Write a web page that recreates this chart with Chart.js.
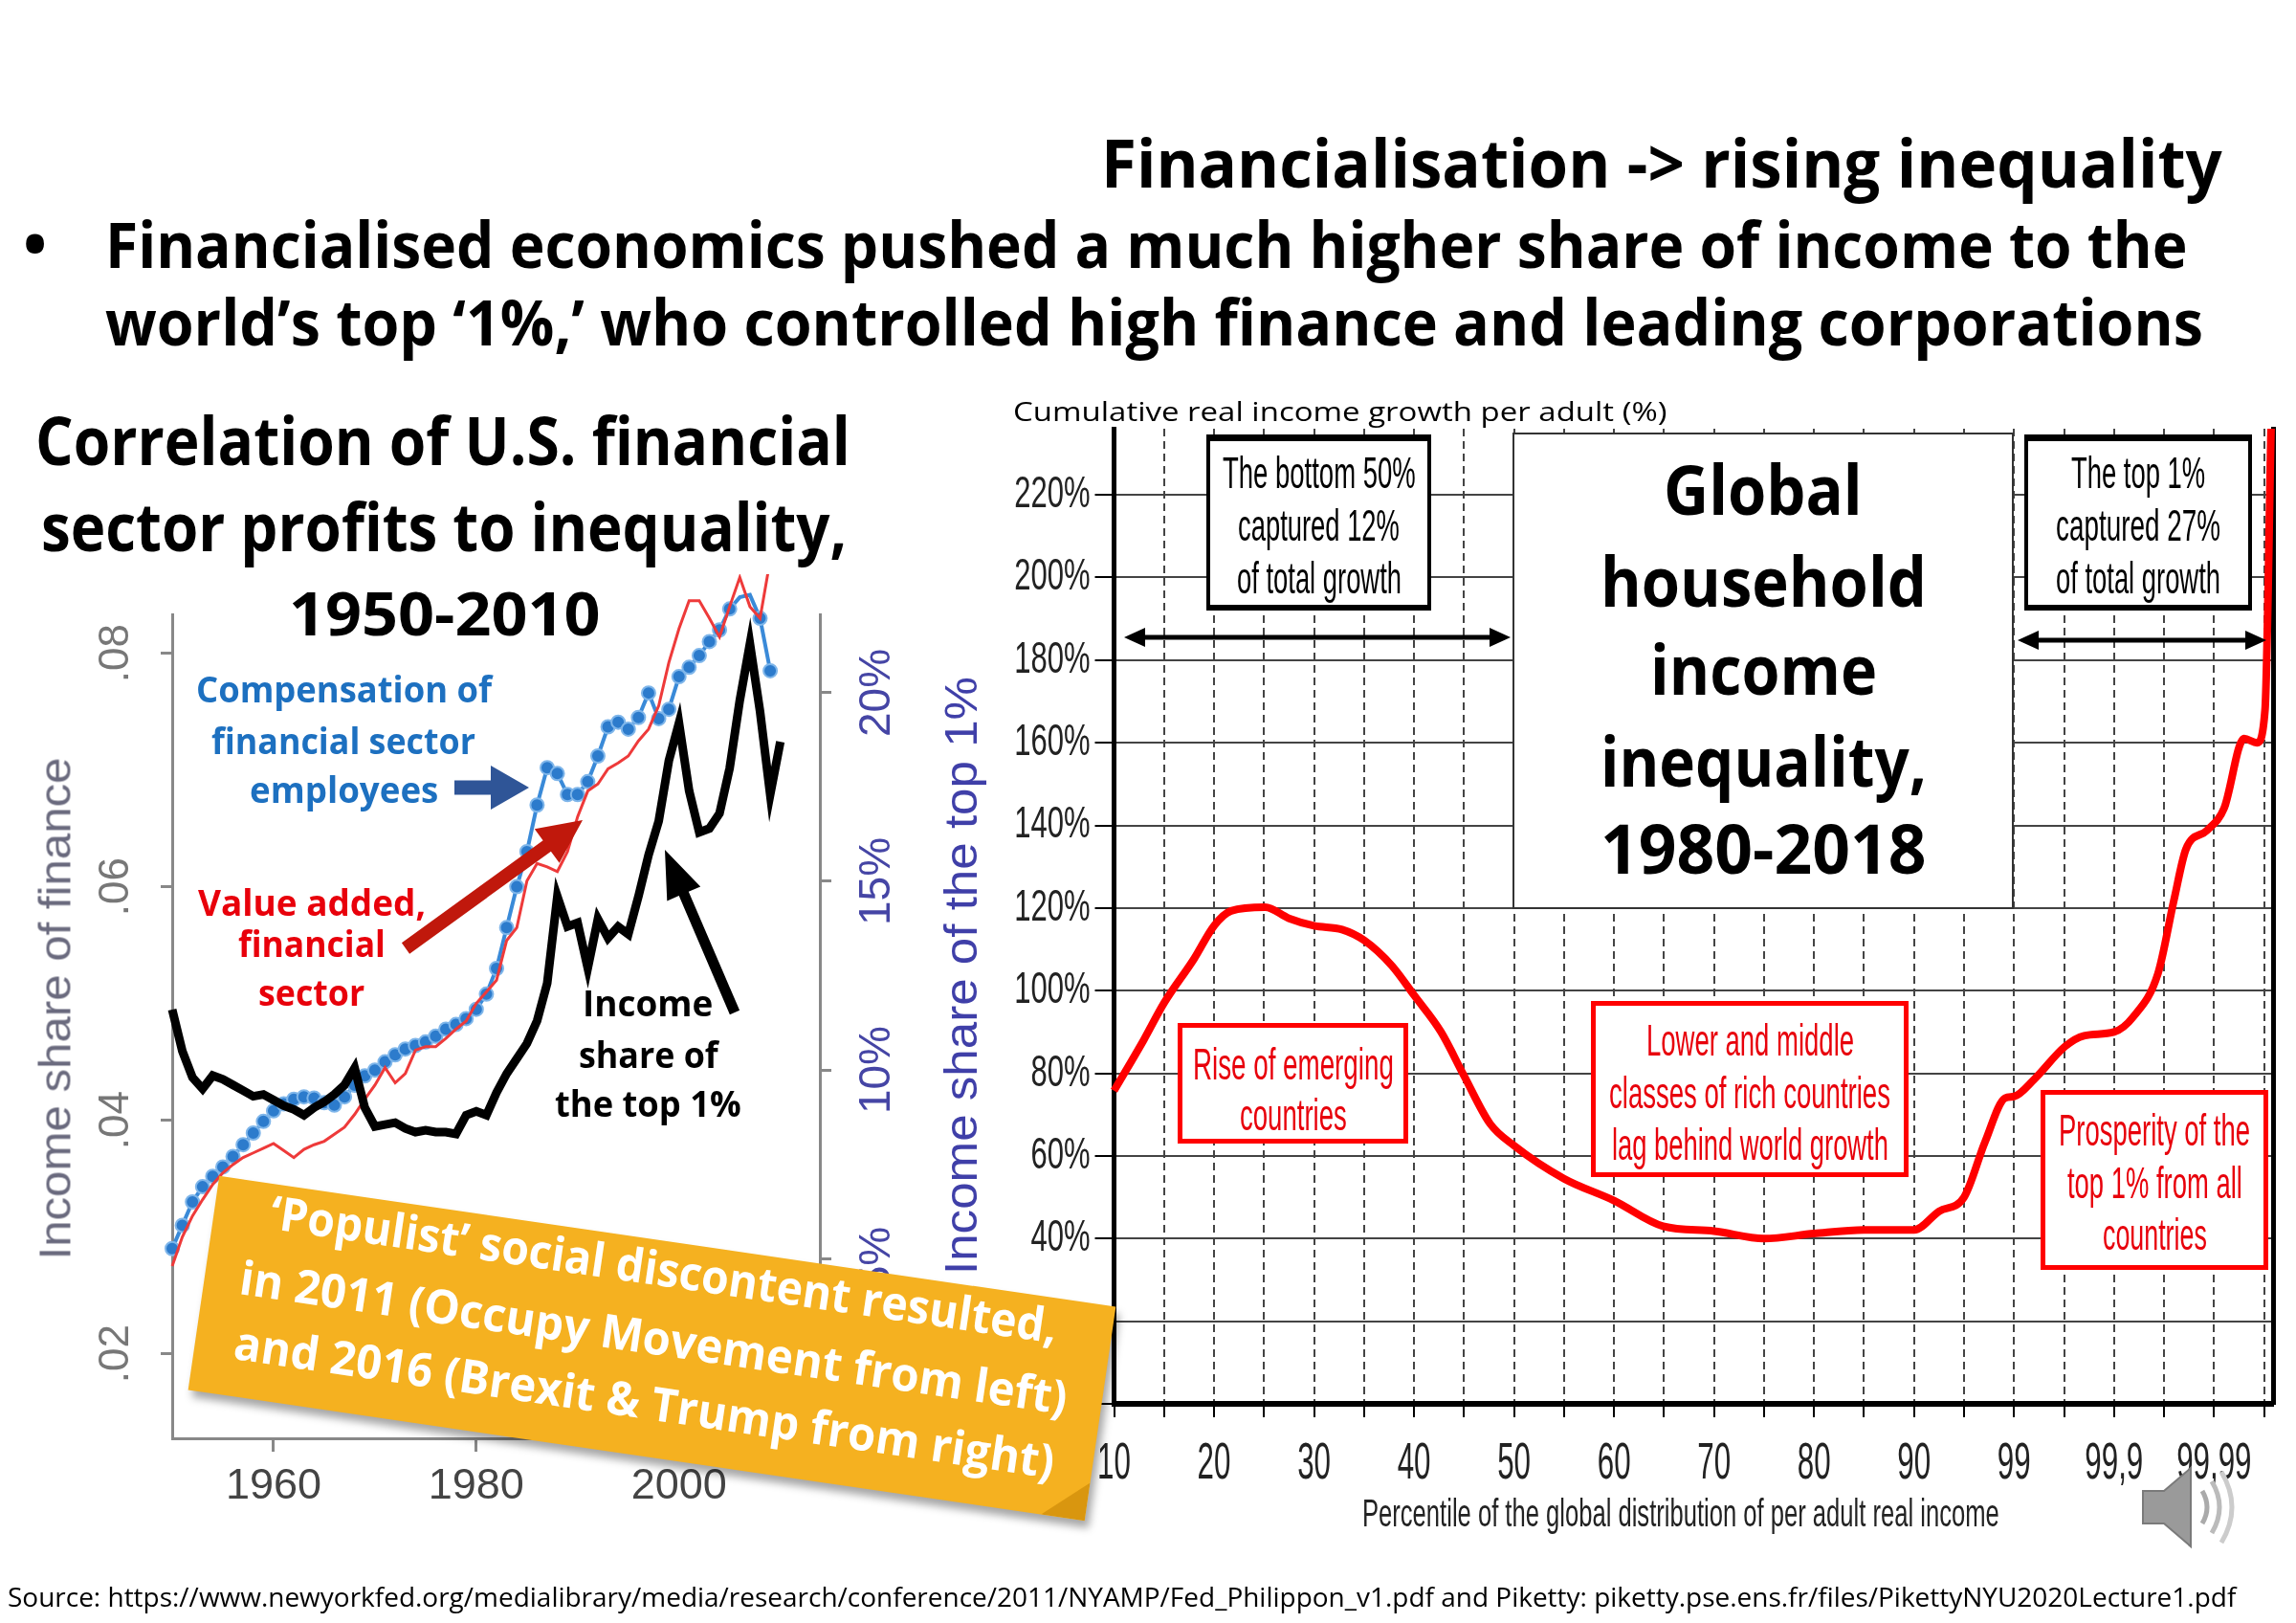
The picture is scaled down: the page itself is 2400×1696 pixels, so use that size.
<!DOCTYPE html>
<html>
<head>
<meta charset="utf-8">
<script src="https://cdn.jsdelivr.net/npm/chart.js@4.4.1/dist/chart.umd.min.js"></script>
<style>
  html, body { margin: 0; padding: 0; background: #fff; }
  body { width: 2400px; height: 1696px; position: relative; overflow: hidden; }
  .t { position: absolute; white-space: nowrap; line-height: 1; transform-origin: 0 0; }
  canvas { position: absolute; }
  #leftChart { left: 0; top: 600px; z-index: 1; }
  #rightChart { left: 1030px; top: 430px; z-index: 1; }
  .box { position: absolute; background: #fff; box-sizing: border-box; z-index: 3; }
  .blk { border: 4px solid #000; border-top-width: 7px; border-bottom-width: 6px; }
  .glob { border: 2px solid #333; }
  .red { border: 5px solid #f00; }
  #note { position: absolute; left: 208px; top: 1296px; width: 947px; height: 226px;
          background: #f5b120; transform: rotate(8.3deg); z-index: 6;
          box-shadow: 5px 7px 9px rgba(0,0,0,0.35); }
  #fold { position: absolute; right: 0; bottom: 0; width: 46px; height: 40px;
          background: #d9960f; clip-path: polygon(100% 0, 0 100%, 100% 100%); }
  #marks { position: absolute; left: 0; top: 0; z-index: 4; }
  #speaker { position: absolute; left: 2232px; top: 1528px; z-index: 4; }
</style>
</head>
<body>
<canvas id="leftChart" width="1040" height="1000"></canvas>
<canvas id="rightChart" width="1370" height="1190"></canvas>

<div class="box blk" style="left:1261px;top:454px;width:235px;height:184px"></div>
<div class="box glob" style="left:1581px;top:452px;width:524px;height:498px"></div>
<div class="box blk" style="left:2116px;top:454px;width:238px;height:184px"></div>
<div class="box red" style="left:1231px;top:1069px;width:241px;height:126px"></div>
<div class="box red" style="left:1663px;top:1046px;width:332px;height:184px"></div>
<div class="box red" style="left:2133px;top:1139px;width:238px;height:188px"></div>

<div id="note"><div id="fold"></div></div>

<svg id="marks" width="2400" height="1696"></svg>

<svg id="speaker" width="115" height="95" viewBox="0 0 115 95">
  <polygon points="8,30 30,30 58,6 58,88 30,64 8,64" fill="#9a9a9a" stroke="#7a7a7a" stroke-width="2"/>
  <path d="M70,30 Q80,47 70,64" stroke="#aaa" stroke-width="5" fill="none"/>
  <path d="M80,20 Q96,47 80,74" stroke="#bbb" stroke-width="5" fill="none"/>
  <path d="M90,10 Q112,47 90,84" stroke="#ccc" stroke-width="5" fill="none"/>
</svg>

<script>
// ---- left chart: US finance 1950-2010 ----
const years = Array.from({ length: 61 }, (_, i) => 1950 + i);

// compensation of financial sector employees (left axis)
const compensation = [
  0.0290, 0.0310, 0.0330, 0.0343, 0.0352, 0.0360, 0.0369, 0.0379, 0.0389, 0.0399,
  0.0408, 0.0414, 0.0418, 0.0420, 0.0419, 0.0415, 0.0413, 0.0420, 0.0430, 0.0438,
  0.0443, 0.0450, 0.0456, 0.0461, 0.0464, 0.0467, 0.0472, 0.0478, 0.0482, 0.0487,
  0.0495, 0.0508, 0.0530, 0.0565, 0.0600, 0.0630, 0.0670, 0.0702, 0.0697, 0.0679,
  0.0679, 0.0690, 0.0712, 0.0737, 0.0741, 0.0735, 0.0745, 0.0766, 0.0744, 0.0752,
  0.0780, 0.0788, 0.0798, 0.0810, 0.0820, 0.0838, 0.0848, 0.0850, 0.0830, 0.0785, null
];

// value added, financial sector (left axis)
const valueAdded = [
  0.0275, 0.0300, 0.0318, 0.0332, 0.0345, 0.0355, 0.0362, 0.0368, 0.0372, 0.0376,
  0.0380, 0.0374, 0.0368, 0.0375, 0.0379, 0.0382, 0.0388, 0.0394, 0.0405, 0.0418,
  0.0430, 0.0445, 0.0432, 0.0440, 0.0460, 0.0463, 0.0463, 0.0470, 0.0478, 0.0485,
  0.0500, 0.0510, 0.0520, 0.0554, 0.0565, 0.0605, 0.0620, 0.0617, 0.0613, 0.0630,
  0.0660, 0.0682, 0.0688, 0.0701, 0.0706, 0.0712, 0.0725, 0.0735, 0.0755, 0.0792,
  0.0821, 0.0845, 0.0845, 0.0830, 0.0814, 0.0840, 0.0865, 0.0840, 0.0830, 0.0880, null
];

// income share of the top 1% (right axis, %)
const top1Share = [
  11.6, 10.5, 9.8, 9.5, 9.85, 9.75, 9.6, 9.45, 9.3, 9.35,
  9.2, 9.05, 8.95, 8.8, 9.0, 9.15, 9.35, 9.6, 10.05, 9.0,
  8.5, 8.55, 8.6, 8.45, 8.35, 8.4, 8.35, 8.35, 8.3, 8.8,
  8.9, 8.8, 9.4, 9.9, 10.3, 10.7, 11.3, 12.3, 14.6, 13.8,
  13.9, 12.7, 14.0, 13.5, 13.8, 13.6, 14.6, 15.7, 16.6, 18.2,
  19.2, 17.4, 16.3, 16.4, 16.8, 18.0, 19.8, 21.3, 19.5, 17.3, 18.7
];

// ---- right chart: global growth by percentile ----
const pctLabels = ['10', '20', '30', '40', '50', '60', '70', '80', '90', '99', '99,9', '99,99'];
// position along the percentile axis (1 unit = one labelled tick)
const growthPos = [
  0.00, 0.30, 0.50, 0.80, 1.00, 1.17, 1.51, 1.75, 2.00, 2.28,
  2.50, 2.78, 3.00, 3.27, 3.50, 3.76, 4.00, 4.50, 5.00, 5.49,
  6.00, 6.50, 7.00, 7.50, 8.00, 8.25, 8.50, 8.71, 8.91, 9.00,
  9.20, 9.51, 9.70, 10.00, 10.19, 10.44, 10.60, 10.72, 10.93, 11.10,
  11.30, 11.43, 11.51, 11.57
];
const growthPct = [
  75.8, 88.2, 97.0, 107.7, 115.7, 119.3, 120.2, 117.5, 115.7, 114.8,
  112.2, 106.0, 98.9, 90.0, 79.4, 67.8, 62.5, 54.5, 49.2, 43.0,
  41.8, 40.0, 41.2, 42.1, 42.1, 46.6, 50.0, 63.4, 74.0, 74.4,
  78.5, 86.5, 89.1, 90.0, 93.6, 104.2, 122.0, 134.3, 138.8, 144.1,
  161.0, 160.0, 168.0, 236.0
];

// the source figure uses a condensed face; squeeze the tick labels horizontally
const narrowTicks = {
  id: 'narrowTicks',
  afterDraw(chart) {
    const ctx = chart.ctx;
    const xs = chart.scales.x, ys = chart.scales.y;
    ctx.save();
    ctx.fillStyle = '#222';
    ctx.font = '54px "Liberation Sans", Arial, sans-serif';
    ctx.textAlign = 'center';
    ctx.textBaseline = 'middle';
    xs.ticks.forEach((t, i) => {
      if (!t.label) return;
      ctx.save();
      ctx.translate(xs.getPixelForTick(i), xs.top + 63);
      ctx.scale(0.58, 1);
      ctx.fillText(t.label, 0, 0);
      ctx.restore();
    });
    ctx.font = '47px "Liberation Sans", Arial, sans-serif';
    ctx.textAlign = 'right';
    ys.ticks.forEach((t, i) => {
      if (!t.label) return;
      ctx.save();
      ctx.translate(ys.right - 25, ys.getPixelForTick(i));
      ctx.scale(0.66, 1);
      ctx.fillText(t.label, 0, 0);
      ctx.restore();
    });
    ctx.restore();
  }
};

new Chart(document.getElementById('leftChart'), {
  type: 'line',
  data: {
    datasets: [
      {
        label: 'Income share of the top 1%',
        data: years.map((y, i) => ({ x: y, y: top1Share[i] })),
        yAxisID: 'y2',
        borderColor: '#000',
        borderWidth: 9,
        pointRadius: 0,
        clip: false,
        order: 0
      },
      {
        label: 'Value added, financial sector',
        data: years.map((y, i) => ({ x: y, y: valueAdded[i] })),
        yAxisID: 'y',
        borderColor: '#ee3a3a',
        borderWidth: 3,
        pointRadius: 0,
        clip: false,
        order: 1
      },
      {
        label: 'Compensation of financial sector employees',
        data: years.map((y, i) => ({ x: y, y: compensation[i] })),
        yAxisID: 'y',
        borderColor: '#3a8ad8',
        borderWidth: 4,
        pointRadius: 7,
        pointBackgroundColor: '#2c7bcc',
        pointBorderColor: '#7fb6ea',
        pointBorderWidth: 2,
        clip: false,
        order: 2
      }
    ]
  },
  options: {
    responsive: false,
    animation: false,
    devicePixelRatio: 1,
    layout: { padding: { top: 42, left: 0, right: 0, bottom: 0 } },
    plugins: { legend: { display: false }, tooltip: { enabled: false } },
    scales: {
      x: {
        type: 'linear',
        min: 1950,
        max: 2013.9,
        afterFit: s => { s.height = 97; },
        ticks: {
          stepSize: 20, includeBounds: false, maxRotation: 0, padding: 10,
          color: '#444', font: { family: 'Liberation Sans', size: 45 },
          callback: v => String(v)
        },
        grid: { drawOnChartArea: false, tickLength: 14, tickColor: '#888', tickWidth: 3 },
        border: { color: '#888', width: 3 }
      },
      y: {
        type: 'linear',
        position: 'left',
        min: 0.01275,
        max: 0.0833,
        afterFit: s => { s.width = 180; },
        ticks: {
          stepSize: 0.02, includeBounds: false, minRotation: 90, maxRotation: 90,
          crossAlign: 'center', padding: 16,
          color: '#777', font: { family: 'Liberation Sans', size: 44 },
          callback: v => v.toFixed(2).slice(1)
        },
        grid: { drawOnChartArea: false, tickLength: 12, tickColor: '#888', tickWidth: 3 },
        border: { color: '#888', width: 3 }
      },
      y2: {
        type: 'linear',
        position: 'right',
        min: 0.23,
        max: 22.07,
        afterFit: s => { s.width = 183; },
        ticks: {
          stepSize: 5, includeBounds: false, minRotation: 90, maxRotation: 90,
          crossAlign: 'center', padding: 2,
          color: '#4545a5', font: { family: 'Liberation Sans', size: 46 },
          callback: v => v + '%'
        },
        grid: { drawOnChartArea: false, tickLength: 12, tickColor: '#888', tickWidth: 3 },
        border: { color: '#888', width: 3 }
      }
    }
  }
});

new Chart(document.getElementById('rightChart'), {
  type: 'line',
  data: {
    datasets: [{
      label: 'Cumulative real income growth per adult (%)',
      data: growthPos.map((p, i) => ({ x: p, y: growthPct[i] })),
      borderColor: '#ff0000',
      borderWidth: 8,
      pointRadius: 0,
      cubicInterpolationMode: 'monotone',
      clip: false
    }]
  },
  options: {
    responsive: false,
    animation: false,
    devicePixelRatio: 1,
    layout: { padding: { top: 18, right: 24, left: 0, bottom: 0 } },
    plugins: { legend: { display: false }, tooltip: { enabled: false } },
    scales: {
      x: {
        type: 'linear',
        min: 0,
        max: 11.59,
        afterFit: s => { s.height = 153; },
        ticks: {
          display: false, stepSize: 0.5, includeBounds: false, autoSkip: false, maxRotation: 0,
          callback: v => Number.isInteger(v) ? pctLabels[v] : ''
        },
        grid: { color: '#444', lineWidth: 2, tickLength: 14, tickColor: '#000', tickWidth: 2 },
        border: { color: '#000', width: 6, dash: [8, 5] }
      },
      y: {
        type: 'linear',
        min: 0,
        max: 236,
        afterFit: s => { s.width = 134.5; },
        ticks: {
          display: false, stepSize: 20, includeBounds: false,
          callback: v => v >= 40 ? v + '%' : ''
        },
        grid: { color: '#444', lineWidth: 2, tickLength: 20, tickColor: '#000', tickWidth: 2 },
        border: { color: '#000', width: 5 }
      },
      yEdge: {
        type: 'linear',
        position: 'right',
        min: 0,
        max: 236,
        afterFit: s => { s.width = 0; },
        ticks: { display: false },
        grid: { display: false },
        border: { color: '#000', width: 5 }
      }
    }
  },
  plugins: [narrowTicks]
});

// ---- text placed on the slide ----
function addText(str, o) {
  const d = document.createElement('div');
  d.className = 't';
  d.style.font = (o.weight || 400) + ' ' + o.fs + 'px ' + (o.family || '"Open Sans", sans-serif');
  d.style.color = o.color || '#000';
  d.style.zIndex = o.z || 5;
  d.textContent = str;
  const m = document.createElement('span');
  m.style.cssText = 'display:inline-block;width:0;height:0;vertical-align:baseline';
  d.appendChild(m);
  (o.parent || document.body).appendChild(d);
  const natW = d.offsetWidth;
  const sx = o.w ? o.w / natW : 1;
  if (o.rot) {
    const h = d.offsetHeight;
    d.style.left = (o.cx - natW / 2) + 'px';
    d.style.top = (o.cy - h / 2) + 'px';
    d.style.transformOrigin = '50% 50%';
    d.style.transform = 'rotate(-90deg) scaleX(' + sx + ')';
    return d;
  }
  const left = o.cx !== undefined ? o.cx - natW * sx / 2 : o.x;
  d.style.left = left + 'px';
  d.style.top = (o.base - m.offsetTop) + 'px';
  d.style.transform = 'scaleX(' + sx + ')';
  return d;
}

function buildTexts() {
  const bold = { weight: 700 };
  addText('Financialisation -> rising inequality', { ...bold, x: 1151, w: 1172, base: 196, fs: 70 });
  addText('\u2022', { ...bold, x: 24, base: 279, fs: 67 });
  addText('Financialised economics pushed a much higher share of income to the', { ...bold, x: 110, w: 2177, base: 280, fs: 67 });
  addText('world\u2019s top \u20181%,\u2019 who controlled high finance and leading corporations', { ...bold, x: 110, w: 2193, base: 361, fs: 67 });

  addText('Correlation of U.S. financial', { ...bold, x: 37, w: 852, base: 486, fs: 70 });
  addText('sector profits to inequality,', { ...bold, x: 43, w: 842, base: 576, fs: 70 });
  addText('1950-2010', { ...bold, x: 302, w: 326, base: 664, fs: 62 });

  const blue = '#1d70c0', red = '#e8000b';
  addText('Compensation of', { ...bold, color: blue, x: 205, w: 309, base: 734, fs: 38 });
  addText('financial sector', { ...bold, color: blue, x: 221, w: 276, base: 788, fs: 38 });
  addText('employees', { ...bold, color: blue, x: 261, w: 197, base: 839, fs: 38 });
  addText('Value added,', { ...bold, color: red, x: 207, w: 238, base: 957, fs: 38 });
  addText('financial', { ...bold, color: red, x: 249, w: 154, base: 1000, fs: 38 });
  addText('sector', { ...bold, color: red, x: 270, w: 111, base: 1051, fs: 38 });
  addText('Income', { ...bold, x: 609, w: 136, base: 1062, fs: 38 });
  addText('share of', { ...bold, x: 605, w: 146, base: 1116, fs: 38 });
  addText('the top 1%', { ...bold, x: 580, w: 195, base: 1167, fs: 38 });

  addText('Income share of finance', { rot: true, cx: 57, cy: 1054, w: 525, fs: 46, family: 'Liberation Sans', color: '#6a6a7e', z: 2 });
  addText('Income share of the top 1%', { rot: true, cx: 1004, cy: 1019, w: 625, fs: 48, family: 'Liberation Sans', color: '#3f3fa8', z: 2 });

  addText('Cumulative real income growth per adult (%)', { x: 1059, w: 683, base: 440, fs: 27 });

  const ls = { family: 'Liberation Sans', fs: 46, z: 5 };
  addText('The bottom 50%', { ...ls, cx: 1378.5, w: 202, base: 510 });
  addText('captured 12%', { ...ls, cx: 1378.5, w: 169, base: 565 });
  addText('of total growth', { ...ls, cx: 1378.5, w: 172, base: 620 });
  addText('The top 1%', { ...ls, cx: 2235, w: 140, base: 510 });
  addText('captured 27%', { ...ls, cx: 2235, w: 172, base: 565 });
  addText('of total growth', { ...ls, cx: 2235, w: 172, base: 620 });

  const gb = { ...bold, fs: 72, cx: 1843 };
  addText('Global', { ...gb, w: 208, base: 538 });
  addText('household', { ...gb, w: 341, base: 634 });
  addText('income', { ...gb, w: 237, base: 726 });
  addText('inequality,', { ...gb, w: 341, base: 822 });
  addText('1980-2018', { ...gb, w: 341, base: 913 });

  const rs = { ...ls, color: '#e8000b' };
  addText('Rise of emerging', { ...rs, cx: 1351.5, w: 210, base: 1128 });
  addText('countries', { ...rs, cx: 1351.5, w: 112, base: 1181 });
  addText('Lower and middle', { ...rs, cx: 1829, w: 217, base: 1103 });
  addText('classes of rich countries', { ...rs, cx: 1829, w: 294, base: 1158 });
  addText('lag behind world growth', { ...rs, cx: 1829, w: 289, base: 1212 });
  addText('Prosperity of the', { ...rs, cx: 2252, w: 200, base: 1197 });
  addText('top 1% from all', { ...rs, cx: 2252, w: 183, base: 1252 });
  addText('countries', { ...rs, cx: 2252, w: 109, base: 1306 });

  addText('Percentile of the global distribution of per adult real income', { ...ls, fs: 40, color: '#222', x: 1424, w: 666, base: 1595 });

  const note = document.getElementById('note');
  const nt = { ...bold, fs: 49, color: '#fff', parent: note, cx: 473.5 };
  addText('\u2018Populist\u2019 social discontent resulted,', { ...nt, w: 830, base: 47 });
  addText('in 2011 (Occupy Movement from left)', { ...nt, w: 873, base: 119 });
  addText('and 2016 (Brexit & Trump from right)', { ...nt, w: 866, base: 187 });

  addText('Source: https://www.newyorkfed.org/medialibrary/media/research/conference/2011/NYAMP/Fed_Philippon_v1.pdf and Piketty: piketty.pse.ens.fr/files/PikettyNYU2020Lecture1.pdf',
    { x: 8, w: 2329, base: 1679, fs: 27 });
}

// ---- arrows ----
function arrowPoints(x1, y1, x2, y2, sw, hw, hl) {
  const L = Math.hypot(x2 - x1, y2 - y1);
  const ux = (x2 - x1) / L, uy = (y2 - y1) / L, nx = -uy, ny = ux;
  const bx = x2 - ux * hl, by = y2 - uy * hl;
  const p = [
    [x1 + nx * sw / 2, y1 + ny * sw / 2], [bx + nx * sw / 2, by + ny * sw / 2],
    [bx + nx * hw / 2, by + ny * hw / 2], [x2, y2],
    [bx - nx * hw / 2, by - ny * hw / 2], [bx - nx * sw / 2, by - ny * sw / 2],
    [x1 - nx * sw / 2, y1 - ny * sw / 2]
  ];
  return p.map(q => q[0].toFixed(1) + ',' + q[1].toFixed(1)).join(' ');
}

function drawArrows() {
  const svg = document.getElementById('marks');
  const add = (pts, fill) => {
    const el = document.createElementNS('http://www.w3.org/2000/svg', 'polygon');
    el.setAttribute('points', pts);
    el.setAttribute('fill', fill);
    svg.appendChild(el);
  };
  add(arrowPoints(475, 823, 553, 823, 15, 46, 40), '#2f5597');
  add(arrowPoints(424, 991, 609, 857, 14, 44, 46), '#c0180c');
  add(arrowPoints(768, 1058, 695, 888, 11, 38, 50), '#000');
  // double-headed span arrows on the right chart
  [[1175, 1579, 666], [2109, 2369, 669]].forEach(([a, b, y]) => {
    const mid = (a + b) / 2;
    add(arrowPoints(mid, y, b, y, 5, 20, 22), '#000');
    add(arrowPoints(mid, y, a, y, 5, 20, 22), '#000');
  });
}

drawArrows();
document.fonts.ready.then(buildTexts);
</script>
</body>
</html>
